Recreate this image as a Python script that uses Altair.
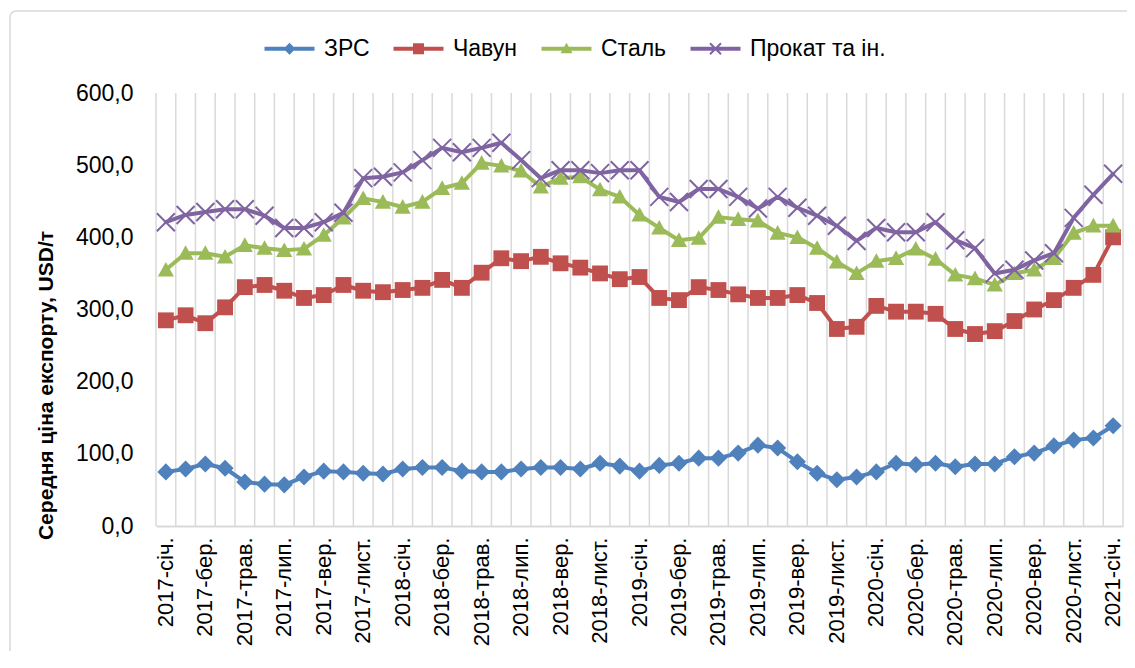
import altair as alt
import pandas as pd

MON = ["січ.", "лют.", "бер.", "квіт.", "трав.", "черв.", "лип.", "серп.", "вер.", "жовт.", "лист.", "груд."]
months = [f"{y}-{m}" for y in (2017, 2018, 2019, 2020) for m in MON] + ["2021-січ."]
tick_labels = months[::2]

series = ["ЗРС", "Чавун", "Сталь", "Прокат та ін."]
colors = ["#4F81BD", "#C0504D", "#9BBB59", "#8064A2"]

zrs = [75, 79, 86, 80, 61, 58, 57, 68, 76, 75, 73, 72, 79, 81, 81, 76, 75, 75, 79, 81,
       81, 79, 87, 83, 76, 84, 87, 94, 94, 101, 112, 108, 89, 73, 64, 68, 75, 87, 85, 87,
       82, 86, 86, 96, 101, 111, 119, 122, 139]
chavun = [285, 292, 281, 303, 331, 334, 326, 316, 320, 334, 326, 324, 327, 330, 341, 330, 351, 371, 367, 373,
          364, 358, 350, 342, 345, 316, 313, 331, 327, 321, 316, 316, 320, 309, 273, 276, 305, 297, 297, 294,
          273, 266, 270, 284, 300, 313, 330, 348, 400]
stal = [355, 378, 378, 373, 389, 385, 382, 384, 403, 427, 454, 449, 442, 449, 468, 475, 503, 499, 492, 470,
        482, 484, 466, 456, 431, 413, 396, 399, 428, 425, 423, 406, 400, 385, 366, 350, 367, 371, 384, 370,
        348, 343, 334, 350, 355, 371, 406, 416, 416]
prokat = [421, 431, 435, 439, 439, 430, 413, 413, 421, 434, 482, 484, 490, 507, 524, 518, 524, 531, 507, 482,
          493, 493, 489, 493, 493, 456, 449, 467, 467, 456, 440, 456, 441, 430, 416, 395, 413, 407, 407, 421,
          396, 385, 350, 355, 368, 378, 427, 459, 488]
values = [zrs, chavun, stal, prokat]

rows = []
for s, vals in zip(series, values):
    for m, v in zip(months, vals):
        rows.append({"month": m, "series": s, "value": v})
df = pd.DataFrame(rows)

# marker shapes (unit-space paths)
X_MARK = ("M-1.078,-0.922L0.922,1.078L1.078,0.922L-0.922,-1.078Z"
          "M-0.922,1.078L1.078,-0.922L0.922,-1.078L-1.078,0.922Z")
marker_paths = [
    "M0,-0.95L-0.95,0L0,0.95L0.95,0Z",
    "M-0.88,-0.88L-0.88,0.88L0.88,0.88L0.88,-0.88Z",
    "M0,-0.88L-0.9,0.74L0.9,0.74Z",
    X_MARK,
]
LINE = "M-5,-0.4L-5,0.4L5,0.4L5,-0.4Z"
legend_paths = [
    LINE + "M0,-1.2L-1.2,0L0,1.2L1.2,0Z",
    LINE + "M-1.1,-1.1L-1.1,1.1L1.1,1.1L1.1,-1.1Z",
    LINE + "M0,-1.2L-1.2,0.9L1.2,0.9Z",
    LINE + "M-1.24,-0.96L0.96,1.24L1.24,0.96L-0.96,-1.24Z"
           "M-0.96,1.24L1.24,-0.96L0.96,-1.24L-1.24,0.96Z",
]

FONT = "Liberation Sans"
GRID = "#d9d9d9"

x_scale = alt.Scale(type="band", paddingInner=0, paddingOuter=0, domain=months)
x_axis = alt.Axis(values=tick_labels, labelAngle=270, labelAlign="right", labelBaseline="middle",
                  labelPadding=11, labelFontSize=22, labelFont=FONT, labelColor="#000",
                  ticks=False, domain=True, domainColor=GRID, domainWidth=2, grid=False,
                  title=None, labelOverlap=False)


def xenc(band=0.5):
    return alt.X("month:O", sort=months, scale=x_scale, axis=x_axis, bandPosition=band)


y_enc = alt.Y("value:Q", scale=alt.Scale(domain=[0, 600], nice=False, zero=True),
              axis=alt.Axis(values=[0, 100, 200, 300, 400, 500, 600],
                            labelExpr="replace(format(datum.value, '.1f'), '.', ',')",
                            labelFontSize=23, labelFont=FONT, labelColor="#000", labelPadding=23,
                            ticks=False, domain=False, grid=False,
                            title="Середня ціна експорту, USD/т", titleFontSize=21, titleFont=FONT,
                            titleFontWeight="bold", titleColor="#000", titleAngle=270,
                            titleX=-110, titleY=292, titleAlign="center", titleBaseline="middle"))

grid = alt.Chart(pd.DataFrame({"month": months})).mark_rule(color=GRID, strokeWidth=1.5).encode(x=xenc(0))
edge = alt.Chart(pd.DataFrame({"month": [months[-1]]})).mark_rule(color=GRID, strokeWidth=1.5).encode(x=xenc(1))
border = alt.Chart(pd.DataFrame({"a": [0]})).mark_rect(
    filled=False, stroke=GRID, strokeWidth=1.5, cornerRadius=6
).encode(x=alt.value(-146), x2=alt.value(990), y=alt.value(-82), y2=alt.value(585))

layers = [grid, edge, border]
for name, col, path in zip(series, colors, marker_paths):
    sub = df[df.series == name]
    line = alt.Chart(sub).mark_line(color=col, strokeWidth=4, strokeJoin="round", strokeCap="round").encode(
        x=xenc(), y=y_enc)
    pts = alt.Chart(sub).mark_point(shape=path, filled=True, color=col, size=324, opacity=1, strokeWidth=0).encode(
        x=xenc(), y=y_enc)
    layers += [line, pts]

leg = alt.Legend(title=None, orient="none", legendX=122, legendY=-56, direction="horizontal",
                 labelFontSize=23, labelFont=FONT, labelColor="#000", symbolSize=100,
                 symbolStrokeWidth=0, labelOffset=23, columnPadding=23, padding=0, symbolOpacity=1)
legend_layer = alt.Chart(df).transform_filter("false").mark_point(filled=True, opacity=1, size=100).encode(
    x=xenc(), y=y_enc,
    color=alt.Color("series:N", scale=alt.Scale(domain=series, range=colors), legend=leg),
    shape=alt.Shape("series:N", scale=alt.Scale(domain=series, range=legend_paths), legend=leg),
)
layers.append(legend_layer)

chart = alt.layer(*layers).properties(
    width=967, height=433,
    padding={"left": 148, "top": 85, "right": 4, "bottom": 125},
    autosize=alt.AutoSizeParams(type="none"),
).configure_view(strokeWidth=0)

chart.save("out.html", embed_options={"renderer": "svg", "actions": False})
